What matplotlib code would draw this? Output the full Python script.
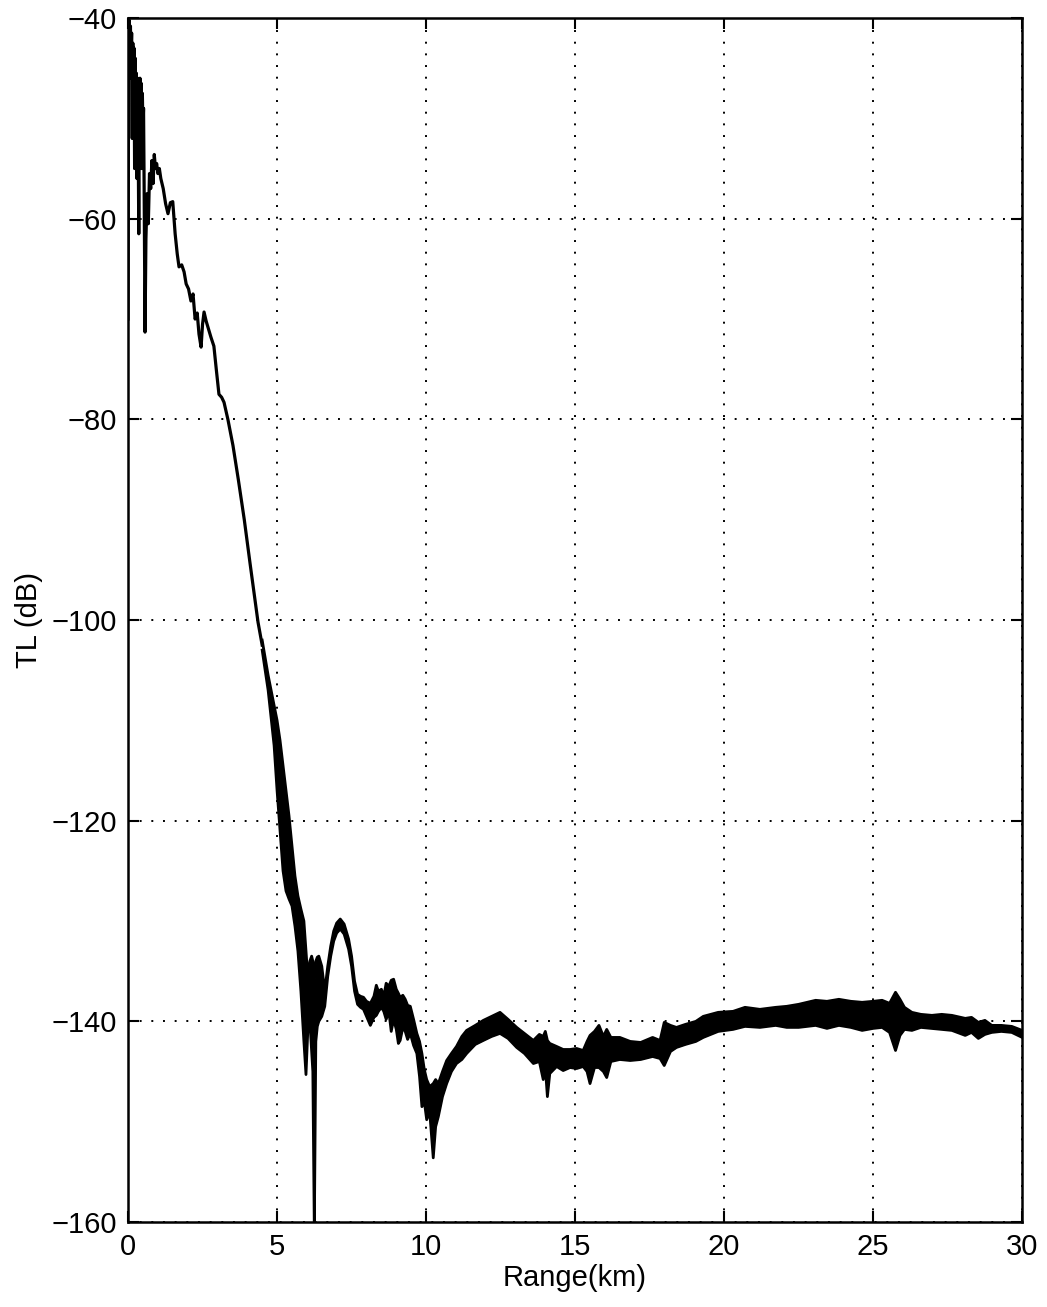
import numpy as np
import matplotlib.pyplot as plt

# -------------------------------
# Data
# -------------------------------
# near field: a single trace, 0 - 4.5 km
near_km = [0.00, 0.02, 0.04, 0.06, 0.08, 0.10, 0.12, 0.14, 0.16, 0.18,
           0.20, 0.22, 0.24, 0.26, 0.28, 0.30, 0.32, 0.34, 0.36, 0.38,
           0.40, 0.42, 0.44, 0.46, 0.48, 0.50, 0.52, 0.54, 0.57,
           0.60, 0.64, 0.68, 0.72, 0.76, 0.80, 0.84, 0.88, 0.92, 0.96,
           1.00, 1.05, 1.10, 1.18, 1.26, 1.34, 1.42, 1.50, 1.58, 1.65,
           1.71, 1.80, 1.88, 1.95, 2.03, 2.11, 2.18, 2.25, 2.32, 2.38,
           2.45, 2.50, 2.55, 2.62, 2.70, 2.78, 2.88, 2.96, 3.05, 3.14,
           3.22, 3.35, 3.52, 3.70, 3.90, 4.10, 4.36, 4.50]
near_tl = [-70.0, -41.0, -40.2, -46.0, -40.8, -44.0, -41.5, -52.0, -42.5, -49.0,
           -43.0, -55.0, -44.0, -50.0, -45.5, -56.0, -46.0, -52.0, -61.5, -48.5,
           -46.0, -53.0, -46.5, -55.0, -47.5, -51.0, -49.0, -57.0, -71.3,
           -62.0, -57.5, -60.5, -55.5, -57.0, -54.2, -56.5, -53.6, -55.0, -54.5,
           -55.5, -55.0, -56.0, -57.0, -58.5, -59.5, -58.4, -58.3, -61.5, -63.5,
           -64.8, -64.6, -65.3, -66.5, -67.0, -68.2, -67.5, -70.0, -69.4, -71.5,
           -72.8, -70.5, -69.3, -70.2, -71.0, -71.8, -72.7, -75.0, -77.5, -77.8,
           -78.3, -80.0, -82.6, -86.0, -90.0, -94.5, -100.2, -102.5]

# far field: noisy band (upper / lower edge), 4.5 - 30 km
band_km = [4.50, 4.70, 4.90, 5.00, 5.10, 5.20, 5.30, 5.40, 5.50, 5.60,
           5.70, 5.80, 5.90, 5.97, 6.03, 6.10, 6.16, 6.20, 6.25, 6.30,
           6.35, 6.40, 6.50, 6.60, 6.70, 6.80, 6.90, 7.00, 7.12, 7.25,
           7.40, 7.50, 7.60, 7.70, 7.80, 7.90, 8.00, 8.13, 8.25, 8.33,
           8.40, 8.50, 8.58, 8.66, 8.75, 8.83, 8.91, 9.00, 9.07, 9.13,
           9.22, 9.30, 9.38, 9.47, 9.58, 9.69, 9.78, 9.86, 9.94, 10.02,
           10.12, 10.24, 10.32, 10.41, 10.55, 10.69, 10.85, 11.02, 11.20, 11.36,
           11.65, 11.92, 12.20, 12.48, 12.75, 13.04, 13.30, 13.60, 13.80, 13.93,
           14.00, 14.07, 14.15, 14.38, 14.60, 14.83, 15.05, 15.27, 15.40, 15.50,
           15.65, 15.80, 15.95, 16.06, 16.20, 16.50, 16.85, 17.20, 17.60, 17.85,
           17.99, 18.20, 18.40, 18.70, 19.05, 19.30, 19.80, 20.30, 20.70, 21.20,
           21.73, 22.10, 22.50, 23.07, 23.45, 23.85, 24.25, 24.63, 25.00, 25.30,
           25.55, 25.75, 25.90, 26.05, 26.30, 26.60, 26.97, 27.30, 27.64, 28.09,
           28.30, 28.53, 28.75, 28.98, 29.30, 29.65, 30.00]
band_hi = [-102.0, -105.5, -108.5, -110.0, -112.0, -114.5, -117.0, -119.5, -122.5, -125.5,
           -127.5, -128.8, -130.0, -133.0, -135.5, -134.0, -133.5, -134.0, -136.0, -134.0,
           -133.6, -133.5, -134.5, -137.0, -134.5, -132.5, -131.0, -130.2, -129.8, -130.3,
           -131.8, -133.5, -136.0, -137.3, -137.5, -137.6, -138.0, -138.2, -137.5, -136.4,
           -137.0, -136.8, -137.5, -136.2, -136.5, -135.9, -135.8, -136.8, -137.2, -137.6,
           -137.4, -137.8, -138.4, -138.5, -139.8, -141.2, -142.0, -143.2, -144.8, -145.8,
           -146.5, -146.2, -145.8, -146.2, -145.0, -143.9, -143.2, -142.5, -141.5, -140.9,
           -140.4, -139.9, -139.5, -139.1, -139.8, -140.6, -141.2, -141.9, -141.3, -141.5,
           -141.0, -141.9, -142.2, -142.5, -142.8, -142.8, -142.7, -142.9, -142.0, -141.4,
           -141.0, -140.4, -141.5, -140.8, -141.6, -141.6, -142.0, -142.1, -141.6, -141.9,
           -140.1, -140.4, -140.6, -140.3, -140.0, -139.5, -139.1, -139.0, -138.6, -138.8,
           -138.6, -138.5, -138.3, -137.9, -138.0, -137.8, -138.0, -138.1, -138.0, -137.9,
           -138.2, -137.1, -137.8, -138.6, -139.1, -139.3, -139.4, -139.3, -139.4, -139.7,
           -139.6, -140.1, -139.9, -140.4, -140.4, -140.5, -140.9]
band_lo = [-103.0, -107.0, -112.5, -117.0, -121.0, -125.0, -127.0, -127.8, -128.5, -130.5,
           -133.0, -137.0, -142.0, -145.3, -141.0, -140.0, -143.0, -145.0, -161.0, -142.0,
           -140.5, -140.0, -139.5, -138.5, -135.5, -133.5, -132.0, -131.2, -130.8, -131.3,
           -132.8, -134.5, -137.0, -138.3, -138.6, -138.8, -139.5, -140.4, -139.6, -139.4,
           -139.0, -138.6, -139.0, -139.8, -139.0, -141.0, -139.8, -140.8, -142.2, -141.9,
           -140.6, -141.0, -141.8, -141.2, -142.4, -143.2, -145.5, -148.5, -148.0, -149.8,
           -149.0, -153.6, -150.5, -149.5, -147.5, -146.2, -145.0, -144.2, -143.8, -143.2,
           -142.3, -141.9, -141.5, -141.2, -141.7, -142.6, -143.2, -144.2, -144.0, -145.8,
           -144.6, -147.5, -145.2, -144.5, -144.9, -144.6, -144.7, -144.5, -145.0, -146.2,
           -144.6, -144.6, -145.0, -145.6, -144.0, -143.8, -143.9, -143.8, -143.5, -143.7,
           -144.4, -143.0, -142.6, -142.3, -142.0, -141.6, -141.0, -140.8, -140.5, -140.6,
           -140.4, -140.6, -140.6, -140.4, -140.7, -140.4, -140.6, -140.9, -140.7, -140.6,
           -141.1, -142.9, -141.4, -140.8, -140.9, -140.6, -140.7, -140.8, -140.9, -141.4,
           -141.1, -141.7, -141.3, -141.1, -141.0, -141.1, -141.6]

x_ticks = [0, 5, 10, 15, 20, 25, 30]
y_ticks = [-160, -140, -120, -100, -80, -60, -40]

# -------------------------------
# Plot
# -------------------------------
plt.rcParams['font.family'] = ['Liberation Sans', 'DejaVu Sans']

fig = plt.figure(figsize=(10.47, 13.07), dpi=100)
ax = fig.add_axes([0.1223, 0.065, 0.854, 0.9212])

ax.plot(near_km, near_tl, color="black", lw=2.3, zorder=3)
ax.fill_between(band_km, band_lo, band_hi, color="black", lw=0, zorder=3)
ax.plot(band_km, band_hi, color="black", lw=2.0, zorder=3)
ax.plot(band_km, band_lo, color="black", lw=2.0, zorder=3)

ax.set_xlim(0, 30)
ax.set_ylim(-160, -40)
ax.set_xticks(x_ticks)
ax.set_yticks(y_ticks)
ax.grid(True, color="black", linestyle=(0, (1.0, 5.0)), linewidth=1.4)

ax.tick_params(direction="in", length=8, width=1.5, labelsize=21,
               top=True, right=True, pad=8)
for s in ax.spines.values():
    s.set_linewidth(1.8)

ax.set_xlabel("Range(km)", fontsize=21, labelpad=2)
ax.set_ylabel("TL (dB)", fontsize=21, labelpad=6)

fig.savefig("out.png", dpi=100)
